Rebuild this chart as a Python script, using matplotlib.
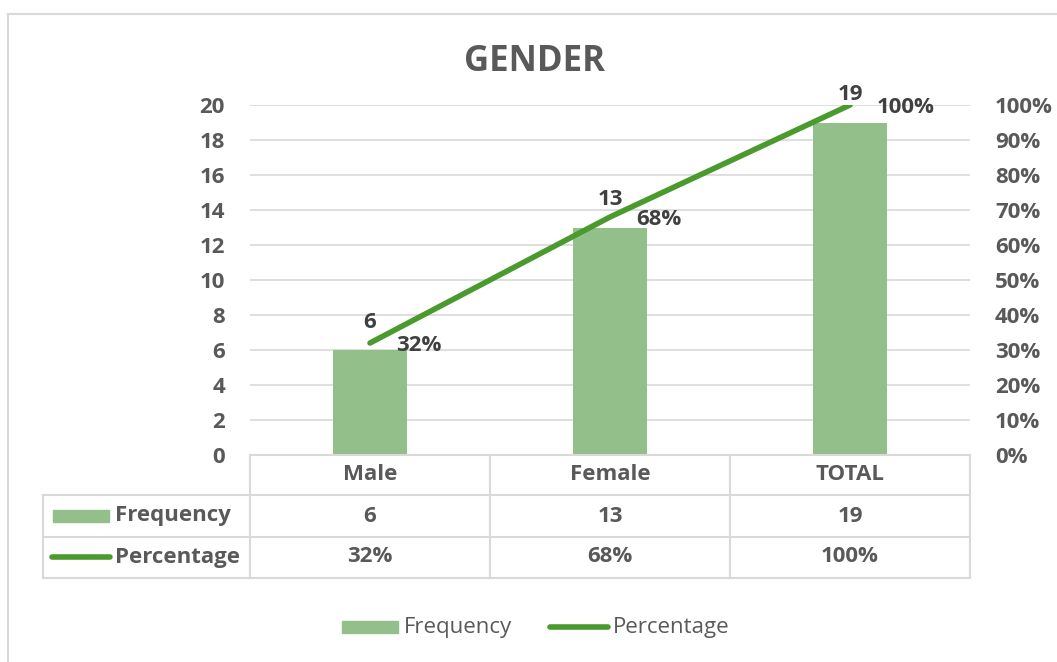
import numpy as np
import matplotlib.pyplot as plt
from matplotlib.lines import Line2D
from matplotlib.patches import Rectangle

categories = ['Male', 'Female', 'TOTAL']
frequency = [6, 13, 19]
percentage = [0.32, 0.68, 1.00]
freq_labels = ['6', '13', '19']
pct_labels = ['32%', '68%', '100%']

bar_color = '#93C08A'
line_color = '#4A9A2E'
text_color = '#595959'
grid_color = '#D9D9D9'

plt.rcParams['font.family'] = ['Open Sans', 'DejaVu Sans']
fs = 16

W, H = 1057, 662
fig = plt.figure(figsize=(W / 100, H / 100), dpi=100)


def fx(px):
    return px / W


def fy(py):
    return 1 - py / H


# outer frame (top and left edges visible)
fig.add_artist(Line2D([fx(8), 1], [fy(14), fy(14)], color=grid_color, lw=1.5))
fig.add_artist(Line2D([fx(8), fx(8)], [fy(14), 0], color=grid_color, lw=1.5))

left, right, top, bottom = 250, 970, 105, 455
ax = fig.add_axes([fx(left), fy(bottom), fx(right - left), (bottom - top) / H])
x = np.arange(len(categories))
ax.bar(x, frequency, width=0.31, color=bar_color, zorder=2)
ax.set_xlim(-0.5, 2.5)
ax.set_ylim(0, 20)
ax.set_yticks(range(0, 21, 2))
ax.set_xticks([])
ax.grid(axis='y', color=grid_color, lw=1.2, zorder=0)
for s in ax.spines.values():
    s.set_visible(False)
ax.tick_params(axis='y', length=0, pad=18, labelsize=fs, labelcolor=text_color)
for t in ax.get_yticklabels():
    t.set_fontweight('bold')

ax2 = ax.twinx()
ax2.plot(x, percentage, color=line_color, lw=4, solid_capstyle='round', zorder=3)
ax2.set_ylim(0, 1)
ax2.set_yticks(np.arange(0, 1.01, 0.1))
ax2.set_yticklabels([f'{int(round(v * 100))}%' for v in np.arange(0, 1.01, 0.1)])
for s in ax2.spines.values():
    s.set_visible(False)
ax2.tick_params(axis='y', length=0, pad=18, labelsize=fs, labelcolor=text_color)
for t in ax2.get_yticklabels():
    t.set_fontweight('bold')

for i in range(len(categories)):
    ax.annotate(freq_labels[i], (x[i], frequency[i]), xytext=(0, 20), textcoords='offset points',
                ha='center', va='center', fontsize=fs, fontweight='bold', color='#404040')
    ax2.annotate(pct_labels[i], (x[i], percentage[i]), xytext=(19, -1.5), textcoords='offset points',
                 ha='left', va='center', fontsize=fs, fontweight='bold', color='#404040')

fig.text(fx(535), fy(62), 'GENDER', ha='center', va='center', fontsize=25,
         fontweight='bold', color=text_color)

# data table
col_edges = [250, 490, 730, 970]
row_edges = [455, 495, 537, 578]
tl = dict(color=grid_color, lw=1.5)
fig.add_artist(Line2D([fx(250), fx(970)], [fy(455), fy(455)], **tl))
for yy in row_edges[1:]:
    fig.add_artist(Line2D([fx(43), fx(970)], [fy(yy), fy(yy)], **tl))
for xx in col_edges:
    fig.add_artist(Line2D([fx(xx), fx(xx)], [fy(455), fy(578)], **tl))
fig.add_artist(Line2D([fx(43), fx(43)], [fy(495), fy(578)], **tl))

for i, cat in enumerate(categories):
    cx = (col_edges[i] + col_edges[i + 1]) / 2
    fig.text(fx(cx), fy(475), cat, ha='center', va='center', fontsize=fs,
             fontweight='bold', color=text_color)
    fig.text(fx(cx), fy(516), freq_labels[i], ha='center', va='center', fontsize=fs,
             fontweight='bold', color=text_color)
    fig.text(fx(cx), fy(557), pct_labels[i], ha='center', va='center', fontsize=fs,
             fontweight='bold', color=text_color)

fig.add_artist(Rectangle((fx(53), fy(522)), fx(56), 12 / H, color=bar_color))
fig.text(fx(115), fy(516), 'Frequency', ha='left', va='center', fontsize=fs,
         fontweight='bold', color=text_color)
fig.add_artist(Line2D([fx(52), fx(110)], [fy(557), fy(557)], color=line_color, lw=4,
                      solid_capstyle='round'))
fig.text(fx(115), fy(557), 'Percentage', ha='left', va='center', fontsize=fs,
         fontweight='bold', color=text_color)

# legend
fig.add_artist(Rectangle((fx(342), fy(633)), fx(56), 12 / H, color=bar_color))
fig.text(fx(404), fy(627), 'Frequency', ha='left', va='center', fontsize=16, color=text_color)
fig.add_artist(Line2D([fx(550), fx(608)], [fy(627), fy(627)], color=line_color, lw=4,
                      solid_capstyle='round'))
fig.text(fx(613), fy(627), 'Percentage', ha='left', va='center', fontsize=16, color=text_color)

fig.savefig('out.png', dpi=100)
